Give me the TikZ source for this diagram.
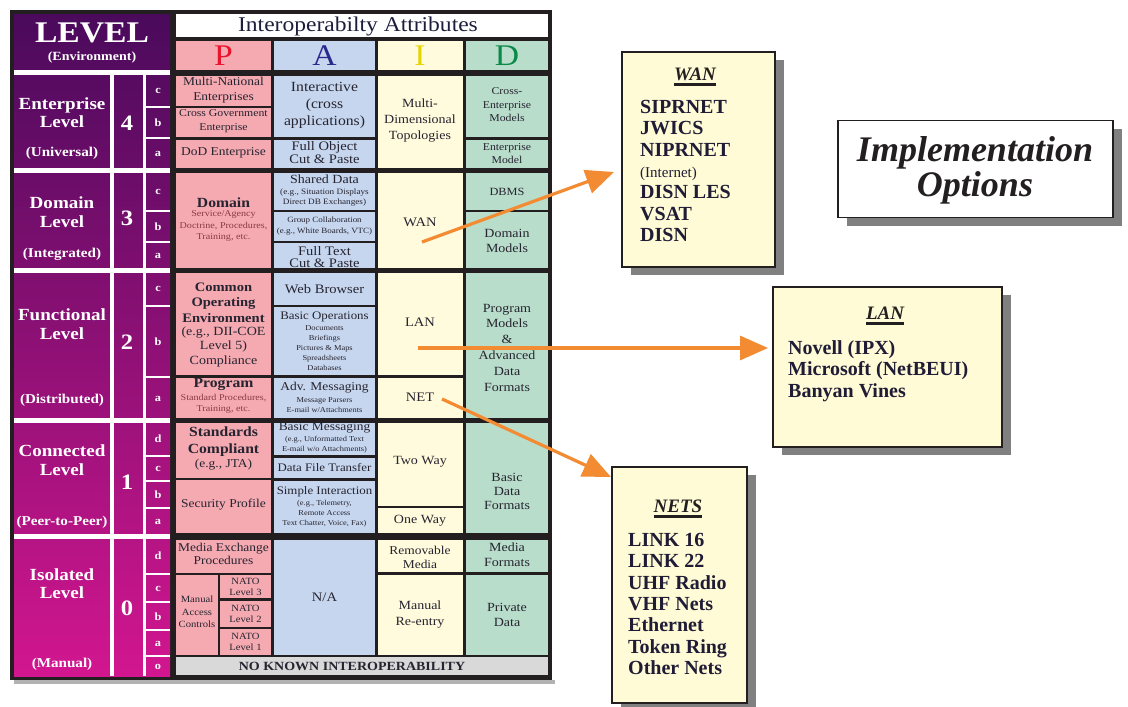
\documentclass[tikz,border=0pt]{standalone}
\usepackage{fontspec}
\setmainfont{Liberation Serif}
\newfontfamily\tf[FakeStretch=1.12]{Liberation Serif}
\usetikzlibrary{arrows.meta,shadows}

\definecolor{frame}{HTML}{231F20}
\definecolor{pcol}{HTML}{F5AAB2}
\definecolor{acol}{HTML}{C6D6EE}
\definecolor{icol}{HTML}{FFFBDC}
\definecolor{dcol}{HTML}{B9DDCB}
\definecolor{gcol}{HTML}{D9D9D9}
\definecolor{boxfill}{HTML}{FFFBD6}
\definecolor{arrowc}{HTML}{F28B32}
\definecolor{ink}{HTML}{262430}
\definecolor{pinkink}{HTML}{8A3A44}
\definecolor{navy}{HTML}{1E1E3C}
\definecolor{lvtop}{HTML}{4A0A5C}
\definecolor{lvmid}{HTML}{7F0D72}
\definecolor{lvbot}{HTML}{D2168F}
\definecolor{hp}{HTML}{E8142C}
\definecolor{ha}{HTML}{2B2A8C}
\definecolor{hi}{HTML}{E6D400}
\definecolor{hd}{HTML}{0A8A48}

% filled table cell
\newcommand\cf[5]{\fill[#5] (#1,#2) rectangle (#3,#4);}

\begin{document}
\begin{tikzpicture}[x=1pt,y=-1pt,
  fs/.style 2 args={font=\tf\fontsize{#1}{#2}\selectfont},
  fsb/.style 2 args={font=\tf\bfseries\fontsize{#1}{#2}\selectfont},
  ct/.style={text=ink, align=center, inner sep=0pt},
  lvtxt/.style={text=white, align=center, inner sep=0pt, fsb={17}{18.5}},
  lvsub/.style={text=white, align=center, inner sep=0pt, fsb={13.5}{15}},
  lvnum/.style={text=white, inner sep=0pt, fsb={22}{24}},
  lvlet/.style={text=white, inner sep=0pt, fsb={11}{12}},
  hdr/.style={inner sep=0pt, fs={30}{30}},
  optbox/.style={draw=frame, line width=1.6pt, fill=boxfill, inner sep=0pt,
    drop shadow={shadow xshift=9pt, shadow yshift=-8pt, fill=black!50, opacity=1}},
  btitle/.style={text=frame, inner sep=0pt, font=\bfseries\itshape\fontsize{19}{21}\selectfont},
  bitems/.style={text=frame!90!blue, align=left, inner sep=0pt, font=\bfseries\fontsize{20}{21.3}\selectfont},
  uline/.style={draw=frame, line width=2.4pt},
  orarrow/.style={draw=arrowc, line width=3.2pt, -{Triangle[length=28pt,width=24pt]}}
]
\useasboundingbox (0,0) rectangle (1128,707);
\fill[white] (0,0) rectangle (1128,707);

% ---------- table frame ----------
\fill[black!30] (14,680) rectangle (555,684);
\fill[frame] (10,10) rectangle (552,680);

% ---------- level column ----------
\shade[top color=lvtop, middle color=lvmid, bottom color=lvbot] (14,14) rectangle (170,676);
\fill[white] (14,70) rectangle (170,75);
\fill[white] (14,167.5) rectangle (170,172.5);
\fill[white] (14,268) rectangle (170,273);
\fill[white] (14,418) rectangle (170,423);
\fill[white] (14,533.5) rectangle (170,538.5);
\fill[white] (109.5,75) rectangle (114,676);
\fill[white] (143,75) rectangle (146,676);
\foreach \yy in {106.5,137.5,210.5,241.5,305.5,377,455.5,480.5,508,573.5,601.5,629.5,655.5}
  \fill[white] (146,\yy-1) rectangle (170,\yy+1);

\node[text=white, inner sep=0pt, fsb={30}{30}] (lvlword) at (92,33) {LEVEL};
\node[text=white, inner sep=0pt, fsb={12.5}{14}] (lvlenv) at (92,57) {(Environment)};

\node[lvtxt] (lv4) at (62,112.5) {Enterprise\\Level};
\node[lvsub] (lv4s) at (62,153) {(Universal)};
\node[lvtxt] (lv3) at (62,212) {Domain\\Level};
\node[lvsub] (lv3s) at (62,254) {(Integrated)};
\node[lvtxt] (lv2) at (62,324) {Functional\\Level};
\node[lvsub] (lv2s) at (62,400) {(Distributed)};
\node[lvtxt] (lv1) at (62,460) {Connected\\Level};
\node[lvsub] (lv1s) at (62,522) {(Peer-to-Peer)};
\node[lvtxt] (lv0) at (62,583.5) {Isolated\\Level};
\node[lvsub] (lv0s) at (62,664) {(Manual)};

\node[lvnum] (n4) at (127,123) {4};
\node[lvnum] (n3) at (127,218) {3};
\node[lvnum] (n2) at (127,342) {2};
\node[lvnum] (n1) at (127,482) {1};
\node[lvnum] (n0) at (127,608) {0};

\node[lvlet] (l4c) at (158,91) {c};
\node[lvlet] (l4b) at (158,123) {b};
\node[lvlet] (l4a) at (158,153.5) {a};
\node[lvlet] (l3c) at (158,191.5) {c};
\node[lvlet] (l3b) at (158,227) {b};
\node[lvlet] (l3a) at (158,255.5) {a};
\node[lvlet] (l2c) at (158,289) {c};
\node[lvlet] (l2b) at (158,342) {b};
\node[lvlet] (l2a) at (158,398.5) {a};
\node[lvlet] (l1d) at (158,439) {d};
\node[lvlet] (l1c) at (158,469) {c};
\node[lvlet] (l1b) at (158,495) {b};
\node[lvlet] (l1a) at (158,522) {a};
\node[lvlet] (l0d) at (158,556) {d};
\node[lvlet] (l0c) at (158,588.5) {c};
\node[lvlet] (l0b) at (158,616.5) {b};
\node[lvlet] (l0a) at (158,643.5) {a};
\node[lvlet] (l0o) at (158,666.5) {o};

% ---------- header ----------
\cf{176}{14}{548}{37}{white}
\cf{176}{41}{271}{70}{pcol}
\cf{274}{41}{375}{70}{acol}
\cf{377.5}{41}{463}{70}{icol}
\cf{466}{41}{548}{70}{dcol}
\node[ct, text=navy, fs={21}{22}] (attrs) at (358,26) {Interoperabilty Attributes};
\node[hdr, text=hp] (hP) at (223.5,56) {P};
\node[hdr, text=ha] (hA) at (324.5,56) {A};
\node[hdr, text=hi] (hI) at (420,56) {I};
\node[hdr, text=hd] (hD) at (507,56) {D};

% ---------- P column ----------
\cf{176}{76}{271}{105.5}{pcol}
\cf{176}{107.5}{271}{137}{pcol}
\cf{176}{139.5}{271}{167.5}{pcol}
\cf{176}{173}{271}{267.5}{pcol}
\cf{176}{273}{271}{375}{pcol}
\cf{176}{377.5}{271}{418}{pcol}
\cf{176}{423}{271}{477.5}{pcol}
\cf{176}{480}{271}{533}{pcol}
\cf{176}{539.5}{271}{573}{pcol}
\cf{176}{575}{218}{654.5}{pcol}
\cf{220}{575}{271}{598}{pcol}
\cf{220}{600.5}{271}{627}{pcol}
\cf{220}{629}{271}{654.5}{pcol}

% ---------- A column ----------
\cf{274}{76}{375}{137}{acol}
\cf{274}{139.5}{375}{167.5}{acol}
\cf{274}{173}{375}{210}{acol}
\cf{274}{212}{375}{241}{acol}
\cf{274}{243}{375}{267.5}{acol}
\cf{274}{273}{375}{305}{acol}
\cf{274}{307}{375}{375}{acol}
\cf{274}{377.5}{375}{418}{acol}
\cf{274}{423}{375}{455}{acol}
\cf{274}{457.5}{375}{478}{acol}
\cf{274}{480.5}{375}{533}{acol}
\cf{274}{539.5}{375}{654.5}{acol}

% ---------- I column ----------
\cf{377.5}{76}{463}{167.5}{icol}
\cf{377.5}{173}{463}{267.5}{icol}
\cf{377.5}{273}{463}{375}{icol}
\cf{377.5}{377.5}{463}{418}{icol}
\cf{377.5}{423}{463}{505.5}{icol}
\cf{377.5}{508}{463}{533}{icol}
\cf{377.5}{539.5}{463}{572}{icol}
\cf{377.5}{574.5}{463}{654.5}{icol}

% ---------- D column ----------
\cf{466}{76}{548}{137}{dcol}
\cf{466}{139.5}{548}{167.5}{dcol}
\cf{466}{173}{548}{210}{dcol}
\cf{466}{212}{548}{267.5}{dcol}
\cf{466}{273}{548}{418}{dcol}
\cf{466}{423}{548}{533}{dcol}
\cf{466}{539.5}{548}{572}{dcol}
\cf{466}{574.5}{548}{654.5}{dcol}

\cf{176}{657}{548}{675}{gcol}

% ---------- P texts ----------
\node[ct, fs={12}{15}] (pmulti) at (223.5,90) {Multi-National\\Enterprises};
\node[ct, fs={10.5}{14}] (pcross) at (223.5,121) {Cross Government\\Enterprise};
\node[ct, fs={12}{14}] (pdod) at (223.5,153) {DoD Enterprise};
\node[ct, fsb={14}{16}] (pdomain) at (223.5,203) {Domain};
\node[ct, text=pinkink, fs={9}{11.2}] (pdomsub) at (223.5,226) {Service/Agency\\Doctrine, Procedures,\\Training, etc.};
\node[ct, fsb={13}{15.5}] (pcoe) at (223.5,302.5) {Common\\Operating\\Environment};
\node[ct, fs={12.5}{14.5}] (pcoesub) at (223.5,346.5) {(e.g., DII-COE\\Level 5)\\Compliance};
\node[ct, fsb={14}{16}] (pprog) at (223.5,384) {Program};
\node[ct, text=pinkink, fs={9}{11.5}] (pprogsub) at (223.5,404) {Standard Procedures,\\Training, etc.};
\node[ct, fsb={14}{17}] (pstd) at (223.5,441.5) {Standards\\Compliant};
\node[ct, fs={12}{14}] (pjta) at (223.5,465) {(e.g., JTA)};
\node[ct, fs={12}{14}] (psec) at (223.5,505) {Security Profile};
\node[ct, fs={12}{13.5}] (pmedia) at (223.5,554) {Media Exchange\\Procedures};
\node[ct, fs={9.5}{12.5}] (pmac) at (197,612) {Manual\\Access\\Controls};
\node[ct, fs={9.5}{11}] (nato3) at (245.5,586.5) {NATO\\Level 3};
\node[ct, fs={9.5}{11}] (nato2) at (245.5,613.5) {NATO\\Level 2};
\node[ct, fs={9.5}{11}] (nato1) at (245.5,641.5) {NATO\\Level 1};

% ---------- A texts ----------
\node[ct, fs={14}{17}] (ainter) at (324.5,105.5) {Interactive\\(cross\\applications)};
\node[ct, fs={13}{13}] (aobj) at (324.5,153) {Full Object\\Cut \& Paste};
\node[ct, fs={12.5}{14}] (ashared) at (324.5,179) {Shared Data};
\node[ct, fs={8.2}{10.5}] (ashsub) at (324.5,197.5) {(e.g., Situation Displays\\Direct DB Exchanges)};
\node[ct, fs={8}{11}] (agroup) at (324.5,226.5) {Group Collaboration\\(e.g., White Boards, VTC)};
\begin{scope}
  \clip (274,243) rectangle (375,267.5);
  \node[ct, fs={13}{12.5}] (atext) at (324.5,257) {Full Text\\Cut \& Paste};
\end{scope}
\node[ct, fs={13}{14}] (aweb) at (324.5,289) {Web Browser};
\node[ct, fs={11.5}{13}] (abasic) at (324.5,317) {Basic Operations};
\node[ct, fs={7.5}{10}] (abasicsub) at (324.5,348) {Documents\\Briefings\\Pictures \& Maps\\Spreadsheets\\Databases};
\node[ct, fs={12}{13}] (aadv) at (324.5,388) {Adv. Messaging};
\node[ct, fs={7.5}{10}] (aadvsub) at (324.5,405) {Message Parsers\\E-mail w/Attachments};
\begin{scope}
  \clip (274,423) rectangle (375,455);
  \node[ct, fs={12}{13}] (abmsg) at (324.5,428) {Basic Messaging};
\end{scope}
\node[ct, fs={7.5}{10}] (abmsgsub) at (324.5,445) {(e.g., Unformatted Text\\E-mail w/o Attachments)};
\node[ct, fs={11.5}{13}] (afile) at (324.5,467.5) {Data File Transfer};
\node[ct, fs={11.5}{13}] (asimple) at (324.5,492) {Simple Interaction};
\node[ct, fs={7.5}{10}] (asimsub) at (324.5,514) {(e.g., Telemetry,\\Remote Access\\Text Chatter, Voice, Fax)};
\node[ct, fs={13}{14}] (ana) at (324.5,597) {N/A};

% ---------- I texts ----------
\node[ct, fs={12.5}{16}] (imulti) at (420,121) {Multi-\\Dimensional\\Topologies};
\node[ct, fs={13}{14}] (iwan) at (420,222) {WAN};
\node[ct, fs={13}{14}] (ilan) at (420,322) {LAN};
\node[ct, fs={13}{14}] (inet) at (420,397) {NET};
\node[ct, fs={12.5}{14}] (itwo) at (420,462) {Two Way};
\node[ct, fs={12.5}{14}] (ione) at (420,520.5) {One Way};
\node[ct, fs={12}{14}] (irem) at (420,557) {Removable\\Media};
\node[ct, fs={12.5}{16}] (iman) at (420,615) {Manual\\Re-entry};

% ---------- D texts ----------
\node[ct, fs={10.5}{13.5}] (dcross) at (507,105) {Cross-\\Enterprise\\Models};
\node[ct, fs={10.5}{13}] (dent) at (507,153.5) {Enterprise\\Model};
\node[ct, fs={11}{13}] (ddbms) at (507,192) {DBMS};
\node[ct, fs={12.5}{15}] (ddom) at (507,240.5) {Domain\\Models};
\node[ct, fs={12.5}{15.8}] (dprog) at (507,347.5) {Program\\Models\\\&\\Advanced\\Data\\Formats};
\node[ct, fs={12.5}{14}] (dbasic) at (507,491) {Basic\\Data\\Formats};
\node[ct, fs={12.5}{15}] (dmedia) at (507,554.5) {Media\\Formats};
\node[ct, fs={12.5}{15}] (dpriv) at (507,614.5) {Private\\Data};

\node[ct, fsb={12.5}{14}] (noknown) at (352,666) {NO KNOWN INTEROPERABILITY};

% ---------- option boxes ----------
\node[optbox, minimum width=153pt, minimum height=215pt] (wanbox) at (698.5,159.5) {};
\node[btitle] (wantitle) at (695,74) {WAN};
\draw[uline] ([yshift=-4pt]wantitle.south west) -- ([yshift=-4pt]wantitle.south east);
\node[bitems, anchor=west] (wanlist) at (640,171) {SIPRNET\\JWICS\\NIPRNET\\{\fontsize{15}{21}\selectfont\mdseries (Internet)}\\DISN LES\\VSAT\\DISN};

\node[optbox, minimum width=229pt, minimum height=160pt] (lanbox) at (887.5,367) {};
\node[btitle] (lantitle) at (885,313) {LAN};
\draw[uline] ([yshift=-4pt]lantitle.south west) -- ([yshift=-4pt]lantitle.south east);
\node[bitems, anchor=west] (lanlist) at (788,371) {Novell (IPX)\\Microsoft (NetBEUI)\\Banyan Vines};

\node[optbox, minimum width=135pt, minimum height=236pt] (netbox) at (679.5,585) {};
\node[btitle] (nettitle) at (678,506) {NETS};
\draw[uline] ([yshift=-4pt]nettitle.south west) -- ([yshift=-4pt]nettitle.south east);
\node[bitems, anchor=west] (netlist) at (628,604) {LINK 16\\LINK 22\\UHF Radio\\VHF Nets\\Ethernet\\Token Ring\\Other Nets};

\node[optbox, fill=white, minimum width=275pt, minimum height=97pt] (implbox) at (975.5,169) {};
\node[text=frame, align=center, inner sep=0pt, font=\bfseries\itshape\fontsize{36}{35}\selectfont] (impltext) at (975,170) {Implementation\\Options};

% ---------- arrows ----------
\coordinate (wanfrom) at (422,242);
\coordinate (wanto) at (614,172);
\coordinate (lanfrom) at (418,348);
\coordinate (lanto) at (768,348);
\coordinate (netfrom) at (442,399);
\coordinate (netto) at (611,477);
\draw[orarrow] (wanfrom) -- (wanto);
\draw[orarrow] (lanfrom) -- (lanto);
\draw[orarrow] (netfrom) -- (netto);
\end{tikzpicture}
\end{document}
